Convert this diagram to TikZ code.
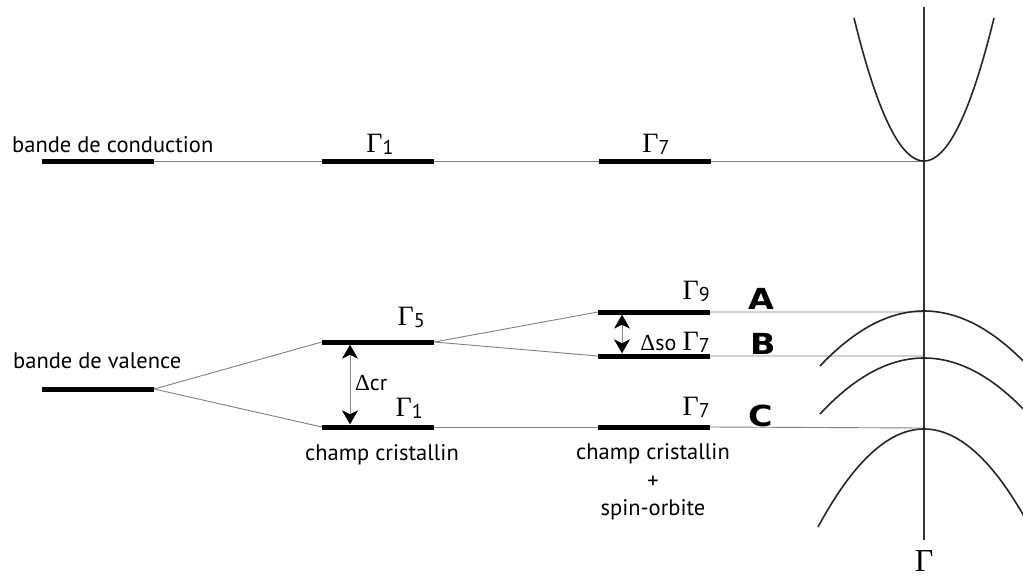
\documentclass[tikz,border=0pt]{standalone}
\usepackage{fontspec}
\setmainfont{PT Sans}
\newfontfamily\serifG{Liberation Serif}
\newfontfamily\abcfont{DejaVu Sans}
\usetikzlibrary{arrows.meta}
\newcommand{\Gm}[1]{{\serifG\fontsize{28}{28}\selectfont Γ}\raisebox{-2.5pt}{\fontsize{20}{20}\selectfont #1}}
\tikzset{bigtip/.tip={Stealth[length=14pt,width=16pt,inset=4pt,color=black,fill=black]}}
\begin{document}
\begin{tikzpicture}[x=1pt,y=-1pt,
  bar/.style={fill=black, inner sep=0pt, minimum width=112pt, minimum height=5pt},
  thinline/.style={draw=black!50, line width=0.9pt},
  band/.style={draw=black!85, line width=1.6pt},
  axisline/.style={draw=black!80, line width=1.6pt},
  dbl/.style={draw=black!45, line width=0.8pt, bigtip-bigtip},
  txt/.style={inner sep=0pt, font=\fontsize{22.5}{26}\selectfont},
  lab/.style={inner sep=0pt, anchor=base east},
  abc/.style={inner sep=0pt, anchor=base west, font=\abcfont\bfseries\fontsize{29}{29}\selectfont, xscale=1.15}]
\useasboundingbox (0,0) rectangle (1023,576);
\fill[white] (0,0) rectangle (1023,576);
% coordinates on the Gamma axis
\coordinate (vtop) at (924,7);
\coordinate (vbot) at (924,540);
\coordinate (cmin) at (924,161);
\coordinate (vA) at (924,312);
\coordinate (vB) at (924,356);
\coordinate (vC) at (924,428);
% bars
\node[bar] (cb0) at (98,161) {};
\node[bar] (cb1) at (378,161) {};
\node[bar] (cb2) at (655,161) {};
\node[bar] (vb0) at (98,389) {};
\node[bar] (g5) at (378,342) {};
\node[bar] (g1) at (378,427) {};
\node[bar] (g9) at (654,312) {};
\node[bar] (g7b) at (654,356) {};
\node[bar] (g7c) at (654,427) {};
% thin connectors
\draw[thinline] (cb0.east) -- (cb1.west) (cb1.east) -- (cb2.west) (cb2.east) -- (cmin);
\draw[thinline] (vb0.east) -- (g5.west) (vb0.east) -- (g1.west);
\draw[thinline] (g5.east) -- (g9.west) (g5.east) -- (g7b.west);
\draw[thinline] (g1.east) -- (g7c.west);
\draw[thinline] (g9.east) -- (vA) (g7b.east) -- (vB) (g7c.east) -- (vC);
% axis and bands
\draw[axisline] (vtop) -- (vbot);
\begin{scope}
\clip (0,0) rectangle (1023,576);
\draw[band,domain=-70:70,samples=80] plot ({924+\x},{161-143*(\x/70)^2});
\draw[band,domain=-104:104,samples=80] plot ({924+\x},{311+55*(\x/104)^2});
\draw[band,domain=-104:104,samples=80] plot ({924+\x},{358+56*(\x/104)^2});
\draw[band,domain=-106:106,samples=80] plot ({924+\x},{429+98*(\x/106)^2});
\end{scope}
% splitting arrows
\coordinate (dcrx) at (350,0);
\coordinate (dsox) at (622,0);
\draw[dbl] (g5.south -| dcrx) -- (g1.north -| dcrx);
\draw[dbl] (g9.south -| dsox) -- (g7b.north -| dsox);
% texts
\node[txt, anchor=base west] (tcond) at (12,152) {bande de conduction};
\node[txt, anchor=base west] (tval) at (13,368) {bande de valence};
\node[txt, anchor=base] (tcc1) at (382,460) {champ cristallin};
\node[txt, anchor=base] (tcc2) at (653,459) {champ cristallin};
\node[txt] (tplus) at (653,482) {+};
\node[txt, anchor=base] (tso) at (653,515) {spin-orbite};
% Gamma labels
\node[inner sep=0pt, anchor=base] (lc1) at (380,152) {\Gm{1}};
\node[inner sep=0pt, anchor=base] (lc7) at (656,152) {\Gm{7}};
\node[lab] (l5) at (425,325) {\Gm{5}};
\node[lab] (l1) at (423,416) {\Gm{1}};
\node[lab] (l9) at (710,299) {\Gm{9}};
\node[lab] (l7b) at (710,350) {\Gm{7}};
\node[lab] (l7c) at (710,415) {\Gm{7}};
\node[inner sep=0pt, anchor=base west] (dcr) at (355,390) {{\serifG\fontsize{23}{23}\selectfont Δ}{\fontsize{22}{22}\selectfont cr}};
\node[inner sep=0pt, anchor=base east] (dso) at (l7b.base west) {{\serifG\fontsize{23}{23}\selectfont Δ}{\fontsize{22}{22}\selectfont so}\kern6pt};
% A B C
\node[abc] (lA) at (748,309) {A};
\node[abc] (lB) at (750,354) {B};
\node[abc] (lC) at (748,426) {C};
% Gamma point
\node[inner sep=0pt, anchor=base] (gpt) at (924,571) {\serifG\fontsize{32}{32}\selectfont Γ};
\end{tikzpicture}
\end{document}
